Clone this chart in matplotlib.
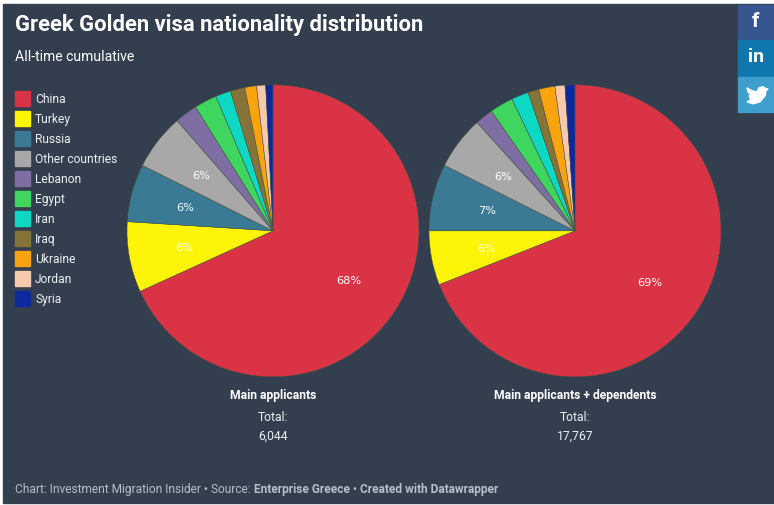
import matplotlib
matplotlib.use("Agg")
import matplotlib.pyplot as plt
from matplotlib.patches import Rectangle, Polygon

countries = ["China", "Turkey", "Russia", "Other countries", "Lebanon", "Egypt",
             "Iran", "Iraq", "Ukraine", "Jordan", "Syria"]
main_applicants = [68.2, 7.8, 6.4, 6.2, 2.5, 2.5, 1.7, 1.6, 1.3, 1.0, 0.8]
with_dependents = [69.0, 6.0, 7.4, 5.9, 2.0, 2.6, 1.9, 1.2, 1.8, 1.1, 1.1]
colors = ["#d93345", "#fdf408", "#3a7a94", "#a8a8a8", "#7f6ea3", "#3ed65f",
          "#0cd8c4", "#86733a", "#f9a40e", "#f7c9ac", "#0c2a9c"]
pie_titles = ["Main applicants", "Main applicants + dependents"]
pie_totals = ["6,044", "17,767"]

BG = "#333e4e"
W, H = 774, 506

plt.rcParams["font.family"] = ["Roboto", "DejaVu Sans"]

fig = plt.figure(figsize=(W / 100, H / 100), dpi=100, facecolor="white")
ax = fig.add_axes([0, 0, 1, 1])
ax.set_xlim(0, W)
ax.set_ylim(0, H)
ax.axis("off")


def py(y):
    # picture pixels count from the top
    return H - y - 0.8


ax.add_patch(Rectangle((3, py(503)), W - 3, 499, color=BG, zorder=0))

ax.text(15, py(24), "Greek Golden visa nationality distribution", color="white",
        fontsize=15.85, fontweight="bold", va="center")
ax.text(15, py(56), "All-time cumulative", color="white", fontsize=10.1, va="center")

# legend
for i, name in enumerate(countries):
    y = 98 + i * 20
    ax.add_patch(Rectangle((15, py(y + 8)), 15, 15, color=colors[i], zorder=2))
    ax.text(35, py(y + 0.5), name, color="#eef0f2", fontsize=8.65, va="center")


def pct_label(p):
    return f"{p:.0f}%" if p >= 5 else ""


centers = [273, 575]
for cx, values, title, total in zip(centers, [main_applicants, with_dependents], pie_titles, pie_totals):
    wedges, texts, autotexts = ax.pie(values, colors=colors, center=(cx, py(231)), radius=146,
                                      startangle=90, counterclock=False, autopct=pct_label,
                                      pctdistance=0.62, frame=True,
                                      wedgeprops={"edgecolor": "#4a5540", "linewidth": 0.35})
    for t in autotexts:
        t.set_color("white")
        t.set_fontsize(8.2)
        t.set_fontfamily("DejaVu Sans")
    ax.text(cx, py(395), title, color="white", fontsize=8.7, fontweight="bold", ha="center", va="center")
    ax.text(cx, py(417), "Total:", color="#eef0f2", fontsize=8.7, ha="center", va="center")
    ax.text(cx, py(435), total, color="#eef0f2", fontsize=8.7, ha="center", va="center")

ax.set_xlim(0, W)
ax.set_ylim(0, H)
ax.axis("off")

# footer, in pieces so the bold parts line up
footer = [("Chart: Investment Migration Insider \u2022 Source: ", "normal"),
          ("Enterprise Greece", "bold"),
          (" \u2022 ", "normal"),
          ("Created with Datawrapper", "bold")]
fig.canvas.draw()
x = 15
for txt, weight in footer:
    t = ax.text(x, py(488.5), txt, color="#b9bfc7", fontsize=8.6, fontweight=weight, va="center")
    x = t.get_window_extent().x1

# share buttons
ax.add_patch(Rectangle((738, py(40)), 36, 35, color="#37568f", zorder=2))
ax.add_patch(Rectangle((738, py(77)), 36, 37, color="#0e78ae", zorder=2))
ax.add_patch(Rectangle((738, py(112)), 36, 35, color="#3e9fcf", zorder=2))
ax.text(756, py(21), "f", color="white", fontsize=15, fontweight="bold", ha="center", va="center", zorder=3)
ax.text(756, py(56), "in", color="white", fontsize=14, fontweight="bold", ha="center", va="center", zorder=3)
bird = [(747, 88), (752, 91), (757, 92), (759, 88), (763, 87), (766, 89), (768, 89), (766, 91),
        (765, 96), (760, 102), (753, 104), (747, 102), (751, 100), (749, 96), (751, 95), (748, 92)]
ax.add_patch(Polygon([(a, py(b)) for a, b in bird], color="white", zorder=3))

fig.savefig("out.png", dpi=100, facecolor="white")
